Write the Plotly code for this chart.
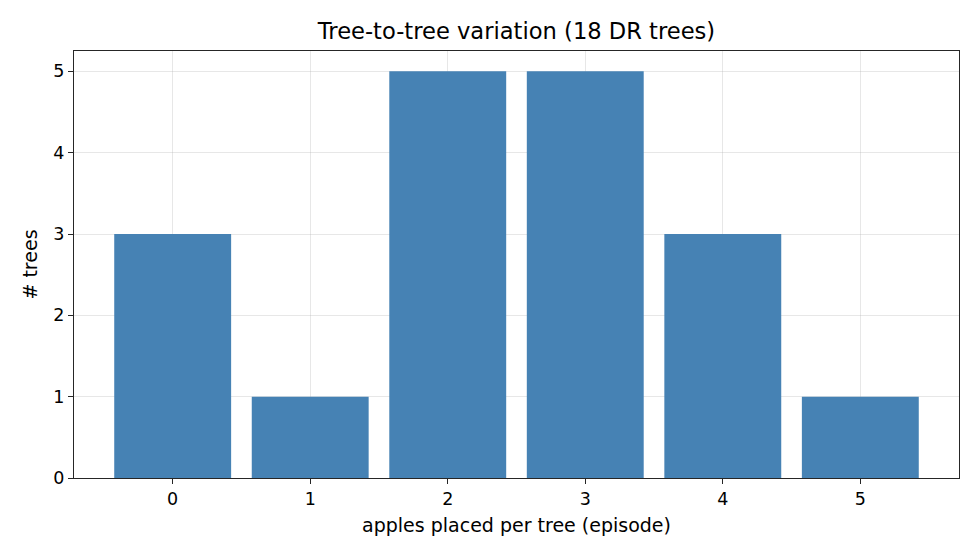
import plotly.graph_objects as go

apples = [0, 1, 2, 3, 4, 5]
trees = [3, 1, 5, 5, 3, 1]
tick_labels = ["0", "1", "2", "3", "4", "5"]

font = "DejaVu Sans"
fig = go.Figure(go.Bar(x=apples, y=trees, width=0.85, marker=dict(color="#4682B4", line=dict(width=0))))

axis_common = dict(
    showline=True, linecolor="#262626", linewidth=1.2, mirror=True,
    ticks="outside", ticklen=5, tickwidth=1.1, tickcolor="#262626",
    showgrid=True, gridcolor="rgba(176,176,176,0.3)", gridwidth=1,
    zeroline=False, layer="above traces",
    tickfont=dict(family=font, size=17.5, color="black"),
)

fig.update_layout(
    width=980, height=560,
    margin=dict(l=74, r=21, t=51, b=82),
    paper_bgcolor="white", plot_bgcolor="white",
    title=dict(text="Tree-to-tree variation (18 DR trees)", x=0.5, xref="paper", xanchor="center",
               y=1 - 31/560, yanchor="middle",
               font=dict(family=font, size=22.6, color="black")),
    xaxis=dict(range=[-0.7175, 5.7175], tickmode="array", tickvals=apples, ticktext=tick_labels,
               title=dict(text="apples placed per tree (episode)", font=dict(family=font, size=19, color="black"), standoff=10),
               **axis_common),
    yaxis=dict(range=[0, 5.25], dtick=1,
               title=dict(text="# trees", font=dict(family=font, size=19, color="black"), standoff=10),
               **axis_common),
    showlegend=False,
)

fig.write_html("out.html")
